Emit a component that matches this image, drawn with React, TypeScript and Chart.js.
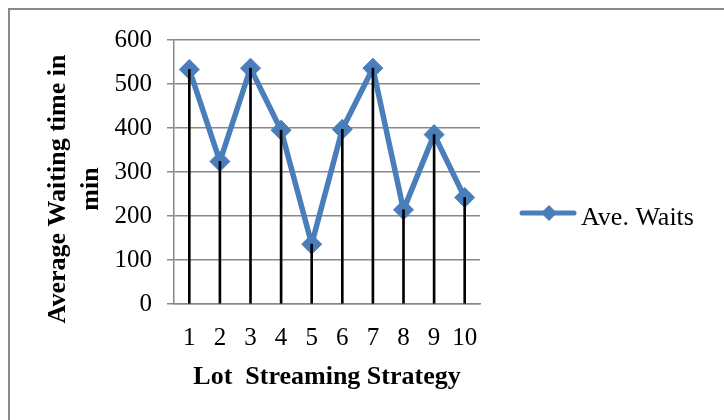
import React, { useEffect, useRef } from "react";
import { Chart, registerables } from "chart.js";

Chart.register(...registerables);

const categories = ["1", "2", "3", "4", "5", "6", "7", "8", "9", "10"];
const aveWaits = [533, 324, 536, 395, 136, 397, 536, 214, 385, 242];
const seriesName = "Ave. Waits";
const xTitle = "Lot  Streaming Strategy";
const yTitleLines = ["Average Waiting time in", "min"];
const yMin = 0;
const yMax = 600;
const yStep = 100;

const SERIF = "'Liberation Serif', 'Times New Roman', serif";
const BLUE = "#4A7EBB";
const GRID = "#888888";

const textPlugin = {
  id: "customText",
  afterDraw(chart: any) {
    const ctx = chart.ctx as CanvasRenderingContext2D;
    const area = chart.chartArea;
    ctx.save();
    ctx.fillStyle = "#000";
    // Y title (two rotated lines)
    ctx.font = `bold 26px ${SERIF}`;
    ctx.textAlign = "center";
    ctx.textBaseline = "alphabetic";
    const yPositions = [55, 88];
    yTitleLines.forEach((line, i) => {
      ctx.save();
      ctx.translate(yPositions[i], 179);
      ctx.rotate(-Math.PI / 2);
      ctx.fillText(line, 0, 0);
      ctx.restore();
    });
    // X title
    ctx.fillText(xTitle, (area.left + area.right) / 2, 374);

    // Legend
    const ly = 203;
    ctx.strokeStyle = BLUE;
    ctx.lineWidth = 5;
    ctx.lineCap = "round";
    ctx.beginPath();
    ctx.moveTo(512, ly);
    ctx.lineTo(564, ly);
    ctx.stroke();
    ctx.fillStyle = BLUE;
    ctx.beginPath();
    const r = 8;
    const cx = 539;
    ctx.moveTo(cx, ly - r);
    ctx.lineTo(cx + r, ly);
    ctx.lineTo(cx, ly + r);
    ctx.lineTo(cx - r, ly);
    ctx.closePath();
    ctx.fill();
    ctx.fillStyle = "#000";
    ctx.font = `26px ${SERIF}`;
    ctx.textAlign = "left";
    ctx.fillText(seriesName, 571, 215);
    ctx.restore();
  },
};

export default function App() {
  const ref = useRef<HTMLCanvasElement | null>(null);

  useEffect(() => {
    if (!ref.current) return;
    const chart = new Chart(ref.current, {
      type: "bar",
      data: {
        labels: categories,
        datasets: [
          {
            type: "line",
            label: seriesName,
            data: aveWaits,
            borderColor: BLUE,
            backgroundColor: BLUE,
            borderWidth: 5.5,
            pointStyle: "rectRot",
            pointRadius: 10,
            pointBackgroundColor: BLUE,
            pointBorderColor: BLUE,
            pointBorderWidth: 1,
            tension: 0,
            order: 1,
          } as any,
          {
            type: "bar",
            label: "drop",
            data: aveWaits,
            backgroundColor: "#000",
            borderWidth: 0,
            barThickness: 2,
            order: 0,
          } as any,
        ],
      },
      options: {
        responsive: false,
        maintainAspectRatio: false,
        animation: false,
        devicePixelRatio: 1,
        layout: { padding: { left: 0, right: 244, top: 27, bottom: 0 } },
        plugins: {
          legend: { display: false },
          tooltip: { enabled: false },
          title: { display: false },
        },
        scales: {
          x: {
            type: "category",
            offset: true,
            grid: { display: false, drawTicks: false },
            border: { display: true, color: GRID, width: 1.5 },
            ticks: {
              color: "#000",
              font: { family: SERIF, size: 25 },
              padding: 19,
              maxRotation: 0,
              autoSkip: false,
            },
            afterFit(scale: any) {
              scale.height = 116;
            },
          },
          y: {
            min: yMin,
            max: yMax,
            grid: { color: GRID, lineWidth: 1.5, drawTicks: true, tickLength: 7 },
            border: { display: true, color: GRID, width: 1.5 },
            ticks: {
              stepSize: yStep,
              color: "#000",
              font: { family: SERIF, size: 25 },
              padding: 15,
            },
            afterFit(scale: any) {
              scale.width = 164;
            },
          },
        },
      },
      plugins: [textPlugin],
    });
    return () => chart.destroy();
  }, []);

  return (
    <div
      style={{
        position: "fixed",
        left: 8,
        top: 8,
        width: 716,
        height: 412,
        borderLeft: "2px solid #898989",
        borderTop: "2px solid #898989",
        background: "#fff",
      }}
    >
      <canvas ref={ref} width={714} height={410} style={{ display: "block" }} />
    </div>
  );
}
